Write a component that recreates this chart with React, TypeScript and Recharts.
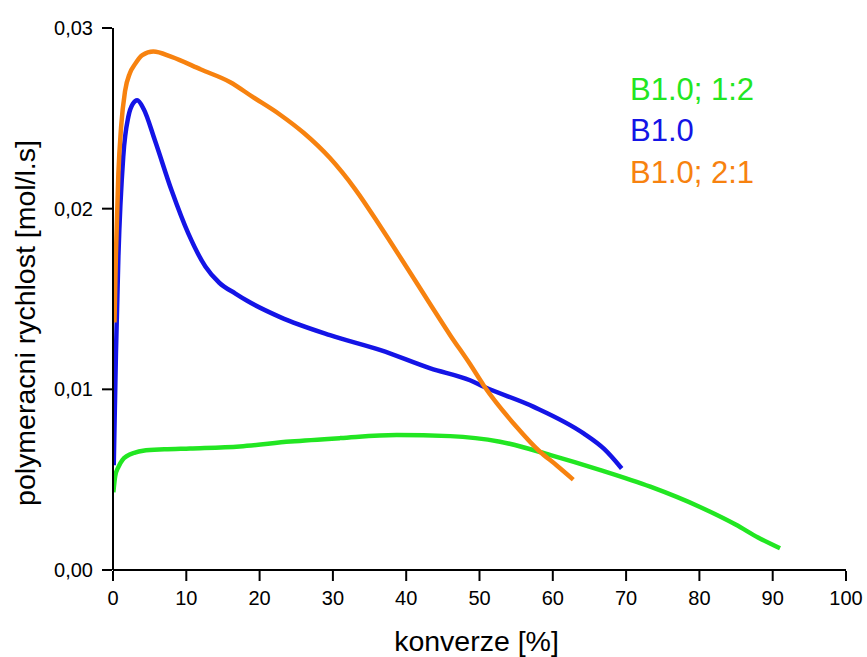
import React from 'react';
import { LineChart, Line, XAxis, YAxis, Legend } from 'recharts';

const FONT = '"Liberation Sans", Arial, sans-serif';

// axis ticks
const X_TICKS = [0, 10, 20, 30, 40, 50, 60, 70, 80, 90, 100];
const X_MINOR = [5, 15, 25, 35, 45, 55, 65, 75, 85, 95];
const Y_TICKS = [0, 0.01, 0.02, 0.03];
const Y_MINOR = [0.005, 0.015, 0.025];

const NAMES = ['B1.0; 1:2', 'B1.0', 'B1.0; 2:1'];
const COLORS = ['#22e622', '#1414e6', '#f7820f'];

// B1.0; 1:2  (green)
const conv12 = [0.05, 0.3, 0.73, 1.3, 1.87, 3, 4.1, 7, 10.5, 17.3, 24.2, 31, 38.7, 46, 52.8, 59.7, 66.5, 73.3, 80, 85, 88, 91];
const rate12 = [0.0043, 0.0052, 0.0057, 0.0061, 0.0063, 0.0065, 0.0066, 0.00668, 0.00673, 0.00684, 0.00711, 0.0073, 0.00747, 0.00741, 0.0071, 0.00636, 0.00553, 0.00461, 0.0035, 0.0025, 0.0018, 0.0012];

// B1.0  (blue)
const conv10 = [0.1, 0.4, 0.73, 1.4, 2.1, 2.7, 3.3, 4.2, 5.7, 8, 10.3, 12.6, 14.5, 16.7, 18.3, 22.8, 29.6, 36.5, 43.3, 48.7, 50.6, 57.4, 64.2, 67, 69.4];
const rate10 = [0.0058, 0.012, 0.0173, 0.0229, 0.0251, 0.0258, 0.026, 0.0255, 0.0238, 0.021, 0.0186, 0.0168, 0.0159, 0.0153, 0.0149, 0.014, 0.013, 0.01217, 0.01116, 0.0105, 0.01014, 0.00903, 0.00756, 0.0067, 0.00562];

// B1.0; 2:1  (orange)
const conv21 = [0.2, 0.4, 0.73, 1.1, 1.64, 2.3, 3, 4, 5.5, 8, 12, 16, 19, 22.8, 26, 29.6, 33, 36.5, 40, 43.3, 46, 48.7, 50.6, 55.1, 58.1, 60.5, 62.8];
const rate21 = [0.0137, 0.0175, 0.0219, 0.0245, 0.0265, 0.0275, 0.028, 0.0285, 0.0287, 0.0284, 0.0277, 0.027, 0.0262, 0.0252, 0.0242, 0.0228, 0.0211, 0.019, 0.0168, 0.0147, 0.013, 0.0114, 0.0102, 0.0079, 0.0066, 0.0058, 0.005];

const toRows = (xs: number[], ys: number[]) => xs.map((x, i) => ({ x, y: ys[i] }));
const SERIES = [toRows(conv12, rate12), toRows(conv10, rate10), toRows(conv21, rate21)];

const fmtY = (v: number) => v.toFixed(2).replace('.', ',');

function LegendBox() {
  return (
    <div style={{ fontFamily: FONT, fontSize: 31, lineHeight: '41.5px' }}>
      {NAMES.map((n, i) => (
        <div key={n} style={{ color: COLORS[i], whiteSpace: 'nowrap' }}>{n}</div>
      ))}
    </div>
  );
}

// axis id 0 = minor ticks (registered first, so it hugs the plot edge), 1 = main axis
export default function App() {
  const tickStyle = { fill: '#000', fontSize: 20, fontFamily: FONT };
  return (
    <div style={{ position: 'absolute', left: 0, top: 0, background: '#fff' }}>
      <LineChart width={867} height={657} margin={{ top: 28, right: 21, bottom: 0, left: 0 }}>
        <XAxis xAxisId={0} type="number" domain={[0, 100]} allowDataOverflow ticks={X_MINOR}
          height={1} tick={false} tickSize={5} stroke="#000" strokeWidth={2} />
        <XAxis xAxisId={1} type="number" dataKey="x" domain={[0, 100]} allowDataOverflow ticks={X_TICKS}
          height={86} axisLine={false} tickSize={10} tickMargin={10} stroke="#000" strokeWidth={2}
          tick={tickStyle}
          label={(p: any) => {
            const vb = p.viewBox || { x: 113, y: 571, width: 733, height: 86 };
            return (
              <text x={vb.x + vb.width / 2 - 3} y={651} textAnchor="middle"
                style={{ fontFamily: FONT, fontSize: 28.5, fill: '#000' }}>konverze [%]</text>
            );
          }} />
        <YAxis yAxisId={0} type="number" domain={[0, 0.03]} allowDataOverflow ticks={Y_MINOR}
          width={1} tick={false} tickSize={5} stroke="#000" strokeWidth={2} />
        <YAxis yAxisId={1} type="number" domain={[0, 0.03]} allowDataOverflow ticks={Y_TICKS}
          width={112} axisLine={false} tickSize={10} tickMargin={9} stroke="#000" strokeWidth={2}
          tick={tickStyle} tickFormatter={fmtY}
          label={(p: any) => {
            const vb = p.viewBox || { x: 0, y: 28, width: 112, height: 542 };
            const cx = 35;
            const cy = vb.y + vb.height / 2 + 24;
            return (
              <text x={cx} y={cy} textAnchor="middle" transform={`rotate(-90, ${cx}, ${cy})`}
                style={{ fontFamily: FONT, fontSize: 28.5, fill: '#000' }}>polymeracni rychlost [mol/l.s]</text>
            );
          }} />
        {SERIES.map((d, i) => (
          <Line key={NAMES[i]} data={d} dataKey="y" name={NAMES[i]} type="monotone"
            xAxisId={1} yAxisId={1}
            stroke={COLORS[i]} strokeWidth={4.5} dot={false} activeDot={false}
            isAnimationActive={false} />
        ))}
        <Legend layout="vertical" align="center" verticalAlign="middle" content={<LegendBox />}
          wrapperStyle={{ left: 630, top: 68.5, width: 'auto' }} />
      </LineChart>
    </div>
  );
}
